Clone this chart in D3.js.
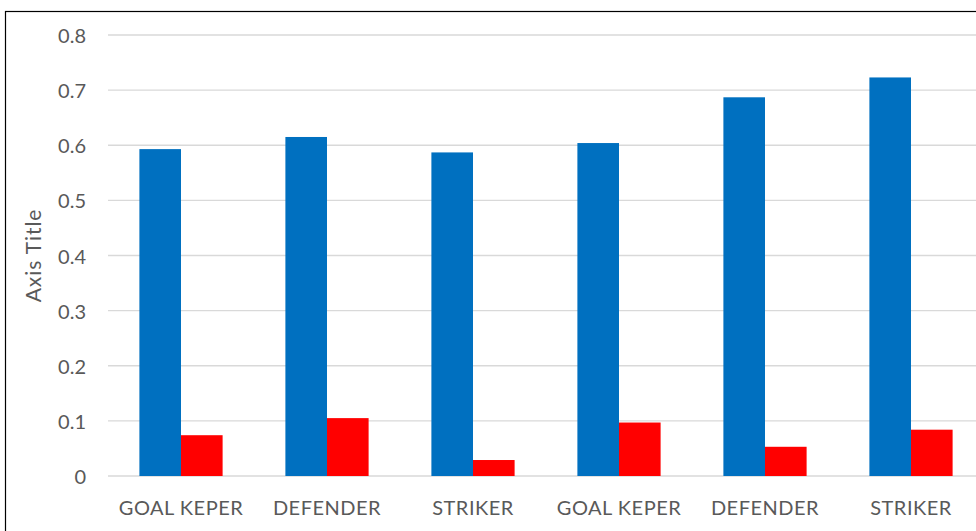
<!DOCTYPE html>
<html>
<head>
<meta charset="utf-8">
<script src="https://cdn.jsdelivr.net/npm/d3@7"></script>
<style>
  html, body { margin: 0; padding: 0; background: #fff; }
  svg { display: block; }
  text { font-family: Lato, "Open Sans", sans-serif; fill: #595959; }
</style>
</head>
<body>
<svg id="chart" width="976" height="531"></svg>
<script>
// Values by group
const categories = ["GOAL KEPER", "DEFENDER", "STRIKER", "GOAL KEPER", "DEFENDER", "STRIKER"];
const seriesBlue = [0.593, 0.615, 0.587, 0.604, 0.687, 0.723];
const seriesRed  = [0.074, 0.105, 0.029, 0.097, 0.053, 0.084];
const yTicks = [0, 0.1, 0.2, 0.3, 0.4, 0.5, 0.6, 0.7, 0.8];
const yTitle = "Axis Title";

const svg = d3.select("#chart");
const margin = { left: 108, top: 35, bottom: 476, right: 984 };

// Chart area frame
svg.append("rect")
  .attr("x", 5.5).attr("y", 11.5)
  .attr("width", 1000).attr("height", 600)
  .attr("fill", "none").attr("stroke", "#000").attr("stroke-width", 1.2);

const x = d3.scaleBand()
  .domain(d3.range(categories.length))
  .range([margin.left, margin.right])
  .paddingInner(0.43).paddingOuter(0.215);

const x1 = d3.scaleBand()
  .domain([0, 1])
  .range([0, x.bandwidth()]);

const y = d3.scaleLinear().domain([0, 0.8]).range([margin.bottom, margin.top]);

// Gridlines
svg.append("g")
  .selectAll("line")
  .data(yTicks)
  .join("line")
  .attr("x1", margin.left).attr("x2", margin.right)
  .attr("y1", d => y(d)).attr("y2", d => y(d))
  .attr("stroke", "#d9d9d9").attr("stroke-width", 1.4);

// Y tick labels
svg.append("g")
  .selectAll("text")
  .data(yTicks)
  .join("text")
  .attr("x", 86).attr("y", d => y(d))
  .attr("text-anchor", "end")
  .attr("dominant-baseline", "central")
  .attr("font-size", 20)
  .text(d => d === 0 ? "0" : d3.format(".1f")(d));

// Bars
const groups = svg.append("g")
  .selectAll("g")
  .data(categories.map((c, i) => ({ i, vals: [seriesBlue[i], seriesRed[i]] })))
  .join("g")
  .attr("transform", d => `translate(${x(d.i)},0)`);

const colors = ["#0070C0", "#FF0000"];
groups.selectAll("rect")
  .data(d => d.vals.map((v, k) => ({ v, k })))
  .join("rect")
  .attr("x", d => x1(d.k))
  .attr("width", x1.bandwidth())
  .attr("y", d => y(d.v))
  .attr("height", d => y(0) - y(d.v))
  .attr("fill", d => colors[d.k]);

// X category labels
svg.append("g")
  .selectAll("text")
  .data(categories)
  .join("text")
  .attr("x", (d, i) => x(i) + x.bandwidth() / 2)
  .attr("y", 507)
  .attr("text-anchor", "middle")
  .attr("dominant-baseline", "central")
  .attr("font-size", 20)
  .attr("letter-spacing", 0.5)
  .text(d => d);

// Y axis title
svg.append("text")
  .attr("transform", `translate(32,${(margin.top + margin.bottom) / 2}) rotate(-90)`)
  .attr("text-anchor", "middle")
  .attr("dominant-baseline", "central")
  .attr("font-size", 21)
  .attr("letter-spacing", 0.9)
  .text(yTitle);
</script>
</body>
</html>
